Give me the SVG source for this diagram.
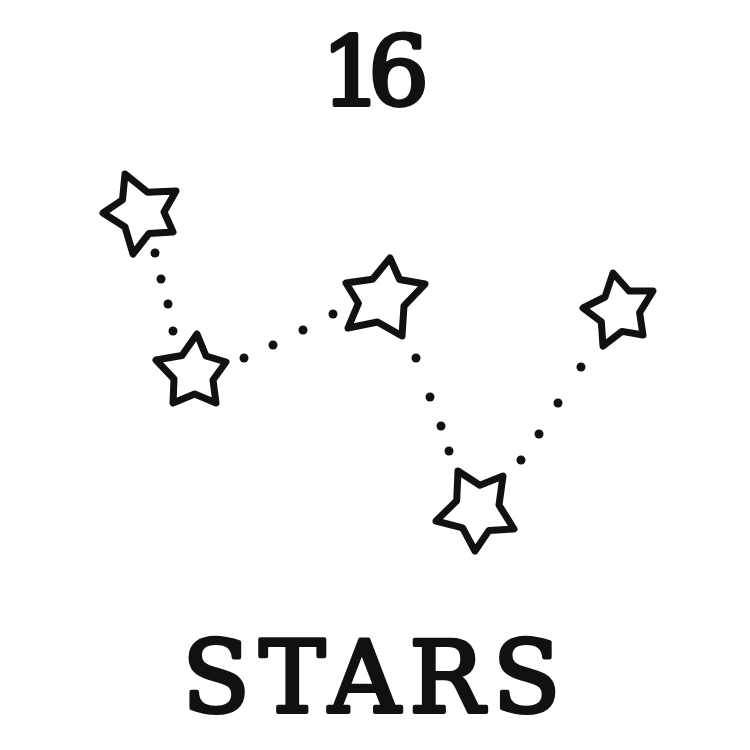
<svg xmlns="http://www.w3.org/2000/svg" width="750" height="750" viewBox="0 0 750 750">
<style>
.star{fill:#fff;stroke:#111;stroke-width:7;stroke-linejoin:round}
.dot{fill:#111}
.t{font-family:"DejaVu Serif",serif;font-weight:normal;fill:#111;stroke:#111;stroke-width:4;stroke-linejoin:round;text-anchor:middle}
</style>
<rect width="750" height="750" fill="#fff"/>
<g id="title"><text class="t" x="368" y="105" font-size="96" letter-spacing="-14">16</text></g>
<g id="connectors">
<circle class="dot" cx="155" cy="253" r="4.5"/><circle class="dot" cx="161" cy="279" r="4.5"/><circle class="dot" cx="168" cy="304" r="4.5"/><circle class="dot" cx="173" cy="331" r="4.5"/>
<circle class="dot" cx="244" cy="358" r="4.5"/><circle class="dot" cx="273" cy="345" r="4.5"/><circle class="dot" cx="303" cy="330" r="4.5"/><circle class="dot" cx="333" cy="314" r="4.5"/>
<circle class="dot" cx="416" cy="358" r="4.5"/><circle class="dot" cx="430" cy="397" r="4.5"/><circle class="dot" cx="441" cy="426" r="4.5"/><circle class="dot" cx="449" cy="451" r="4.5"/>
<circle class="dot" cx="581" cy="367" r="4.5"/><circle class="dot" cx="558" cy="403" r="4.5"/><circle class="dot" cx="539" cy="434" r="4.5"/><circle class="dot" cx="521" cy="460" r="4.5"/>
</g>
<g id="star1"><polygon class="star" points="125,174 147.6,192.2 176,191 164,212 173,232 149,233.5 133,254 125,227 103,213 122.5,199.8"/></g>
<g id="star2"><polygon class="star" points="197,334 206,356 226,362 213,380 216,403 194.7,394 173,403 174,379 156,360 182,355.5"/></g>
<g id="star3"><polygon class="star" points="390,258 399.6,279.5 425,284 404,306 402,336 377.5,322 348,328 358.4,303.3 346,283 372.6,279.2"/></g>
<g id="star4"><polygon class="star" points="613,273 629,291 653,291 639.6,312.6 643,335 622,331.4 603,346 601.3,321.8 583,308 605,297"/></g>
<g id="star5"><polygon class="star" points="458,471 479.8,485.2 503,476 499,505 514,529 489,530.4 475,551 462.6,527.8 436,521 456.7,500.7"/></g>
<g id="label"><text class="t" x="376" y="712" font-size="99" letter-spacing="9">STARS</text></g>
</svg>
